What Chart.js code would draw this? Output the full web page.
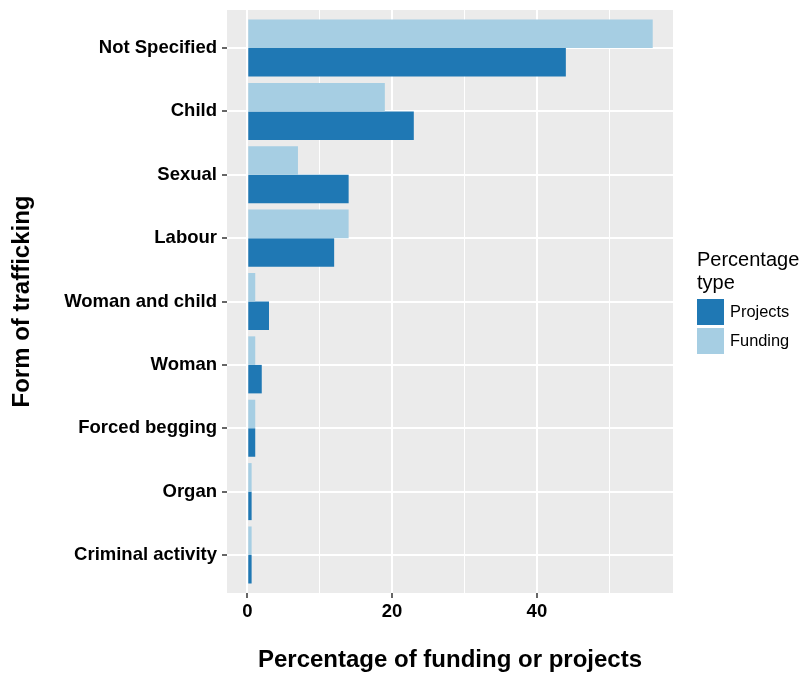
<!DOCTYPE html>
<html>
<head>
<meta charset="utf-8">
<script src="https://cdn.jsdelivr.net/npm/chart.js@4"></script>
<style>
html,body{margin:0;padding:0;background:#fff;}
#wrap{position:relative;width:805px;height:675px;}
#legend{position:absolute;left:697px;top:248px;font-family:"Liberation Sans",Arial,sans-serif;color:#000;}
#legend .title{font-size:20px;line-height:23px;margin-bottom:3px;}
#legend .item{display:flex;align-items:center;height:29px;}
#legend .sw{width:27px;height:26px;margin-right:6px;}
#legend .lab{font-size:16.4px;}
</style>
</head>
<body>
<div id="wrap">
<canvas id="c" width="805" height="675"></canvas>
<div id="legend"></div>
</div>
<script>
const categories = ["Not Specified","Child","Sexual","Labour","Woman and child","Woman","Forced begging","Organ","Criminal activity"];
const fundingValues = [56, 19, 7, 14, 1.1, 1.1, 1.1, 0.6, 0.6];
const projectsValues = [44, 23, 14, 12, 3, 2, 1.1, 0.6, 0.6];
const xTicks = [0, 10, 20, 30, 40, 50];
const xLabelTicks = [0, 20, 40];
const seriesNames = ["Projects", "Funding"];
const seriesColors = {"Projects": "#1F78B4", "Funding": "#A6CEE3"};
const legendTitle = ["Percentage", "type"];
const xTitle = "Percentage of funding or projects";
const yTitle = "Form of trafficking";

const FONT = '"Liberation Sans", Arial, sans-serif';

const panelBg = {
  id: 'panelBg',
  beforeDraw(chart) {
    const {ctx, chartArea: a} = chart;
    ctx.save();
    ctx.fillStyle = '#EBEBEB';
    ctx.fillRect(a.left, a.top, a.right - a.left, a.bottom - a.top);
    ctx.restore();
  }
};

const toPoints = vals => vals.map((v, i) => ({x: v, y: i}));

new Chart(document.getElementById('c'), {
  type: 'bar',
  data: {
    datasets: [
      {label: "Funding", data: toPoints(fundingValues), backgroundColor: seriesColors["Funding"], borderWidth: 0},
      {label: "Projects", data: toPoints(projectsValues), backgroundColor: seriesColors["Projects"], borderWidth: 0}
    ]
  },
  plugins: [panelBg],
  options: {
    indexAxis: 'y',
    responsive: false,
    animation: false,
    events: [],
    datasets: {bar: {categoryPercentage: 0.9, barPercentage: 1.0}},
    layout: {padding: {top: 10, right: 132, left: 0, bottom: 0}},
    plugins: {legend: {display: false}, tooltip: {enabled: false}},
    scales: {
      x: {
        type: 'linear',
        min: -2.8,
        max: 58.8,
        afterBuildTicks(scale) { scale.ticks = xTicks.map(v => ({value: v})); },
        afterFit(scale) { scale.height = 82; scale.paddingLeft = 0; scale.paddingRight = 0; },
        border: {display: false},
        grid: {
          color: '#FFFFFF',
          lineWidth: ctx => (ctx.tick && xLabelTicks.includes(ctx.tick.value)) ? 2 : 1,
          tickColor: ctx => (ctx.tick && xLabelTicks.includes(ctx.tick.value)) ? '#333333' : 'rgba(0,0,0,0)',
          tickWidth: 1.5,
          tickLength: 5,
          drawTicks: true
        },
        ticks: {
          autoSkip: false,
          maxRotation: 0,
          padding: 3,
          color: '#000',
          font: {family: FONT, size: 18.5, weight: 'bold'},
          callback: v => xLabelTicks.includes(v) ? String(v) : ''
        },
        title: {
          display: true,
          text: xTitle,
          color: '#000',
          font: {family: FONT, size: 24, weight: 'bold'},
          padding: {top: 0, bottom: 0}
        }
      },
      y: {
        type: 'linear',
        reverse: true,
        offset: false,
        min: -0.6,
        max: categories.length - 1 + 0.6,
        afterBuildTicks(scale) { scale.ticks = categories.map((c, i) => ({value: i})); },
        afterFit(scale) { scale.width = 227; scale.paddingTop = 0; scale.paddingBottom = 0; },
        border: {display: false},
        grid: {
          offset: false,
          color: '#FFFFFF',
          lineWidth: 2,
          tickColor: '#333333',
          tickWidth: 1.5,
          tickLength: 5
        },
        ticks: {
          autoSkip: false,
          padding: 5,
          color: '#000',
          font: {family: FONT, size: 18.5, weight: 'bold'},
          callback: v => categories[v]
        },
        title: {
          display: true,
          text: yTitle,
          color: '#000',
          font: {family: FONT, size: 24, weight: 'bold'},
          padding: {top: 8, bottom: 0}
        }
      }
    }
  }
});

const lg = document.getElementById('legend');
let html = '<div class="title">' + legendTitle.join('<br>') + '</div>';
seriesNames.forEach(n => {
  html += '<div class="item"><div class="sw" style="background:' + seriesColors[n] + '"></div><div class="lab">' + n + '</div></div>';
});
lg.innerHTML = html;
</script>
</body>
</html>
